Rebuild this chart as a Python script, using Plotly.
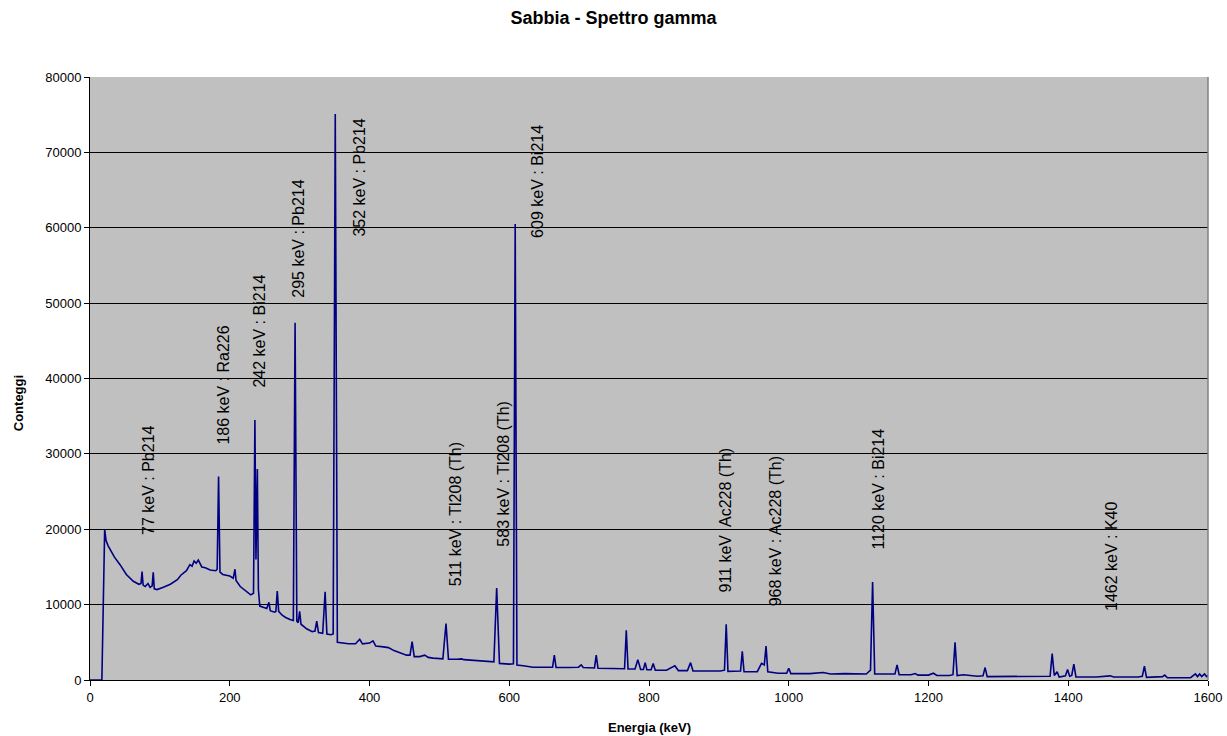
import plotly.graph_objects as go

# ---- data ----
energy_kev = [
    0, 17, 21, 23, 26, 35, 43, 52, 62, 70, 73, 74.5, 76, 79, 83, 86, 89, 90.5, 92, 96,
    105, 115, 125, 130, 138, 143, 146, 149, 152, 155, 160, 165, 172, 180, 182, 184, 186,
    190, 200, 205, 207.5, 209, 215, 222, 230, 234, 236, 237.5, 239.5, 241, 243, 250, 253,
    256, 258, 264, 266, 268, 270, 275, 280, 287, 291, 293.5, 296, 298, 300, 302, 310, 318,
    322, 324.5, 327, 333, 336.5, 339, 345, 348, 351, 354, 360, 370, 380, 386, 390, 400,
    405, 409, 420, 427, 435, 444, 453, 458, 461, 464, 472, 479, 484, 491, 505, 509.5, 513,
    525, 532, 535, 550, 563, 578, 582, 586, 600, 606, 608.5, 611, 620, 634, 650, 662, 664.5,
    667, 685, 699, 703, 706, 722, 724.5, 727, 740, 754, 765, 767.5, 770, 780, 784, 788, 792,
    794.5, 797, 803, 806, 809, 825, 837, 842, 855, 859.5, 863, 880, 902, 908, 910.5, 913,
    925, 931, 933.5, 936, 955, 961, 965, 967.5, 970, 985, 997, 1000, 1003, 1030, 1049, 1060,
    1080, 1100, 1111, 1117, 1120, 1123, 1140, 1152, 1155, 1158, 1175, 1181, 1185, 1200, 1207,
    1212, 1230, 1235, 1238, 1241, 1250, 1270, 1278, 1281, 1284, 1320, 1350, 1374, 1377, 1380,
    1384, 1387, 1396, 1399, 1402, 1405, 1408, 1411, 1440, 1460, 1465, 1500, 1506, 1509, 1512,
    1535, 1538, 1542, 1575, 1579, 1582, 1585, 1588, 1591, 1595, 1598, 1600,
]
counts = [
    0, 0, 20000, 18500, 17800, 16300, 15300, 14000, 13100, 12700, 12800, 14400, 12600, 12400,
    12800, 12300, 12500, 14300, 12100, 12000,
    12300, 12700, 13300, 13900, 14500, 15300, 15100, 15800, 15500, 15900, 15000, 14900, 14600,
    14500, 14700, 27000, 14300,
    14000, 13800, 13500, 14700, 13200, 12400, 11900, 11300, 11500, 34500, 16000, 28000, 12000,
    9800, 9600, 9500,
    10300, 9200, 9000, 9100, 11800, 9100, 8600, 8300, 8000, 7900, 47400, 7800, 7600, 9100, 7400,
    6800, 6400,
    6500, 7800, 6300, 6200, 11700, 6100, 6000, 6100, 75100, 5000, 4900, 4800, 4800, 5400, 4800,
    4900,
    5200, 4500, 4400, 4300, 3900, 3600, 3300, 3300, 5100, 3100, 3100, 3300, 3000, 2900, 2800,
    7500, 2750,
    2750, 2800, 2700, 2600, 2500, 2400, 12200, 2200, 2100, 2150, 60500, 2000, 1900, 1700, 1700,
    1700, 3300,
    1650, 1650, 1700, 2000, 1650, 1600, 3300, 1550, 1500, 1450, 1500, 6600, 1450, 1450, 2700,
    1400, 1400,
    2300, 1350, 1350, 2200, 1300, 1300, 1900, 1250, 1250, 2300, 1200, 1200, 1200, 1300, 7400,
    1150,
    1150, 1200, 3800, 1100, 1100, 2200, 2000, 4500, 1100, 900, 900, 1550, 850, 850, 1000, 800,
    850, 800, 800, 1300, 13000, 800, 750, 800, 2000, 700, 700, 850, 650, 650, 900,
    600, 600, 700, 5000, 600, 700, 500, 550, 1650, 450, 450, 450, 500, 3500, 600,
    1100, 400, 550, 1400, 500, 600, 2100, 400, 400, 550, 400, 400, 500, 1850, 350,
    450, 650, 300, 300, 550, 800, 450, 800, 450, 800, 450, 600,
]

label_text = [
    "77 keV : Pb214", "186 keV : Ra226", "242 keV : Bi214", "295 keV : Pb214",
    "352 keV : Pb214", "511 keV : Tl208 (Th)", "583 keV : Tl208 (Th)", "609 keV : Bi214",
    "911 keV  Ac228 (Th)", "968 keV : Ac228 (Th)", "1120 keV : Bi214", "1462 keV : K40",
]
label_x = [83.4, 190.8, 243.3, 297.2, 385.4, 522.4, 591.5, 640.2, 908.8, 980.3, 1128.2, 1462.2]
label_y = [19010, 30950, 38470, 50410, 58600, 12170, 17470, 58370, 11280, 9510, 17020, 8850]

x_ticks = [0, 200, 400, 600, 800, 1000, 1200, 1400, 1600]
y_ticks = [0, 10000, 20000, 30000, 40000, 50000, 60000, 70000, 80000]

FONT = "Arial, Liberation Sans, sans-serif"

fig = go.Figure()
fig.add_trace(go.Scatter(
    x=energy_kev, y=counts, mode="lines",
    line=dict(color="#000080", width=1.6),
    showlegend=False, hoverinfo="x+y",
))

annotations = []
for t, x, y in zip(label_text, label_x, label_y):
    annotations.append(dict(
        x=x, y=y, xref="x", yref="y", text=t, showarrow=False,
        textangle=-90, xanchor="center", yanchor="bottom",
        font=dict(family=FONT, size=16, color="#000000"),
    ))

annotations.append(dict(
    x=0.5, y=-0.0796, xref="paper", yref="paper", text="<b>Energia (keV)</b>",
    showarrow=False, xanchor="center", yanchor="middle",
    font=dict(family=FONT, size=13, color="#000000"),
))
annotations.append(dict(
    x=-0.0644, y=0.459, xref="paper", yref="paper", text="<b>Conteggi</b>",
    showarrow=False, xanchor="center", yanchor="middle", textangle=-90,
    font=dict(family=FONT, size=13, color="#000000"),
))

fig.update_layout(
    width=1227, height=736,
    margin=dict(l=90, r=19, t=77, b=56, autoexpand=False),
    paper_bgcolor="#ffffff",
    plot_bgcolor="#c0c0c0",
    title=dict(
        text="<b>Sabbia - Spettro gamma</b>",
        x=0.5, xref="container", xanchor="center",
        y=1 - 18 / 736, yref="container", yanchor="middle",
        font=dict(family=FONT, size=18, color="#000000"),
    ),
    font=dict(family=FONT, size=13, color="#000000"),
    annotations=annotations,
    shapes=[dict(type="line", xref="paper", yref="paper", x0=1, x1=1, y0=0, y1=1,
                 line=dict(color="#808080", width=1.5))],
)

fig.update_xaxes(
    range=[0, 1600], tickvals=x_ticks, ticktext=[str(v) for v in x_ticks],
    showgrid=False, zeroline=False, automargin=False,
    showline=True, linecolor="#000000", linewidth=1,
    ticks="outside", ticklen=5, tickcolor="#000000",
    tickfont=dict(family=FONT, size=13),
)
fig.update_yaxes(
    range=[0, 80000], tickvals=y_ticks, ticktext=[str(v) for v in y_ticks],
    showgrid=True, gridcolor="#000000", gridwidth=1, zeroline=False, automargin=False,
    showline=True, linecolor="#000000", linewidth=1,
    ticks="outside", ticklen=5, tickcolor="#000000",
    tickfont=dict(family=FONT, size=13),
)

fig.write_html("out.html")
